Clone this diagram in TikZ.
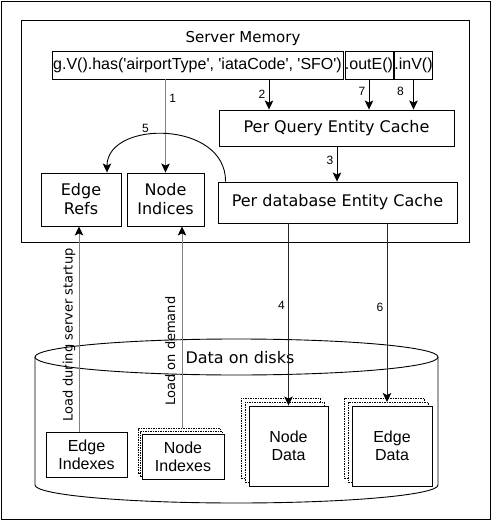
\documentclass[tikz,border=0pt]{standalone}
\usepackage{fontspec}
\newfontfamily\arialfam{Liberation Sans}
\newfontfamily\verdfam{DejaVu Sans}
\usetikzlibrary{arrows.meta}

\begin{document}
\begin{tikzpicture}[x=1pt,y=-1pt,line width=0.9pt,
  >={Stealth[length=9pt,width=8.5pt,inset=2pt]},
  box/.style={draw,fill=white,inner sep=0pt,align=center},
  arial/.style={font=\arialfam\fontsize{16}{18}\selectfont},
  verd/.style={font=\verdfam\fontsize{16}{19}\selectfont},
  num/.style={font=\arialfam\fontsize{12}{14}\selectfont},
  loadtxt/.style={font=\verdfam\fontsize{13}{15}\selectfont},
  graytip/.style={draw=black!50,-{Stealth[length=9pt,width=8.5pt,inset=2pt,black]}},
  darktip/.style={draw=black!85,-{Stealth[length=9pt,width=8.5pt,inset=2pt,black]}},
  ghost/.style={draw,dash pattern=on 1.5pt off 1pt,line width=0.6pt,fill=white}]
\useasboundingbox (0,0) rectangle (491,521);
\draw (1,1) rectangle (490,519);

% server memory
\node[draw,inner sep=0pt,minimum width=448,minimum height=222] (mem) at (245,131) {};
\node[font=\verdfam\fontsize{15}{17}\selectfont] (memtitle) at (243,38) {Server Memory};
\node[box,arial,minimum width=291,minimum height=28] (query) at (197.5,65) {g.V().has('airportType', 'iataCode', 'SFO')};
\node[box,arial,minimum width=44,minimum height=28] (oute) at (369,65) {.outE()};
\node[box,arial,minimum width=37,minimum height=28] (inv) at (413.5,65) {.inV()};
\node[box,verd,minimum width=235,minimum height=36] (pq) at (336.5,128) {Per Query Entity Cache};
\node[box,verd,minimum width=239,minimum height=41] (pdb) at (337.5,202.5) {Per database Entity Cache};
\node[box,verd,minimum width=80,minimum height=53] (erefs) at (81,199.5) {Edge\\Refs};
\node[box,verd,minimum width=77,minimum height=53] (nind) at (165.5,199.5) {Node\\Indices};

% disks
\draw (35,357) -- (35,485) arc[start angle=180,end angle=360,x radius=201.5pt,y radius=18pt] -- (438,357);
\draw (236.5,357) ellipse[x radius=201.5pt,y radius=18pt];
\node[verd] (disks) at (240,358) {Data on disks};
\node[box,arial,minimum width=81,minimum height=45] (eidx) at (86.5,454.5) {Edge\\Indexes};
\node[ghost,minimum width=82,minimum height=45] (nidxc) at (179,450.5) {};
\node[ghost,minimum width=82,minimum height=45] (nidxb) at (181,453.5) {};
\node[box,arial,minimum width=82,minimum height=45] (nidx) at (183,456.5) {Node\\Indexes};
\node[ghost,minimum width=79,minimum height=80] (ndatac) at (280.5,438) {};
\node[ghost,minimum width=79,minimum height=80] (ndatab) at (284.5,442) {};
\node[box,arial,minimum width=79,minimum height=80] (ndata) at (288.5,446) {Node\\Data};
\node[ghost,minimum width=80,minimum height=80] (edatac) at (384,438) {};
\node[ghost,minimum width=80,minimum height=80] (edatab) at (388,442) {};
\node[box,arial,minimum width=80,minimum height=80] (edata) at (392,446) {Edge\\Data};

% query steps
\draw[graytip] (query.south -| nind.north) -- node[num,right,pos=0.2]{1} (nind.north);
\draw[->] (query.south -| 269,0) -- node[num,left]{2} (pq.north -| 269,0);
\draw[->] (oute.south) -- node[num,left,pos=0.4]{7} (pq.north -| oute.south);
\draw[->] (inv.south) -- node[num,left=6pt,pos=0.4]{8} (pq.north -| inv.south);
\draw[->] (pq.south -| 337,0) -- node[num,left,pos=0.39]{3} (pdb.north -| 337,0);
\draw[->] ([xshift=8pt]pdb.north west) .. controls (226,120) and (107,120) .. node[num,above,pos=0.62]{5} ([xshift=26pt]erefs.north);
\draw[darktip] (pdb.south -| ndata.north) -- node[num,left,pos=0.45]{4} (ndata.north);
\draw[darktip] (pdb.south -| 387,0) -- node[num,left,pos=0.47]{6} (387,402);

% loading
\draw[graytip] (eidx.north -| 79,0) -- node[loadtxt,sloped,above,pos=0.47]{Load during server startup} (erefs.south -| 79,0);
\draw[graytip] ([yshift=6pt]nidx.north -| 182,0) -- node[loadtxt,sloped,above=3pt,pos=0.38]{Load on demand} (nind.south -| 182,0);
\end{tikzpicture}
\end{document}
